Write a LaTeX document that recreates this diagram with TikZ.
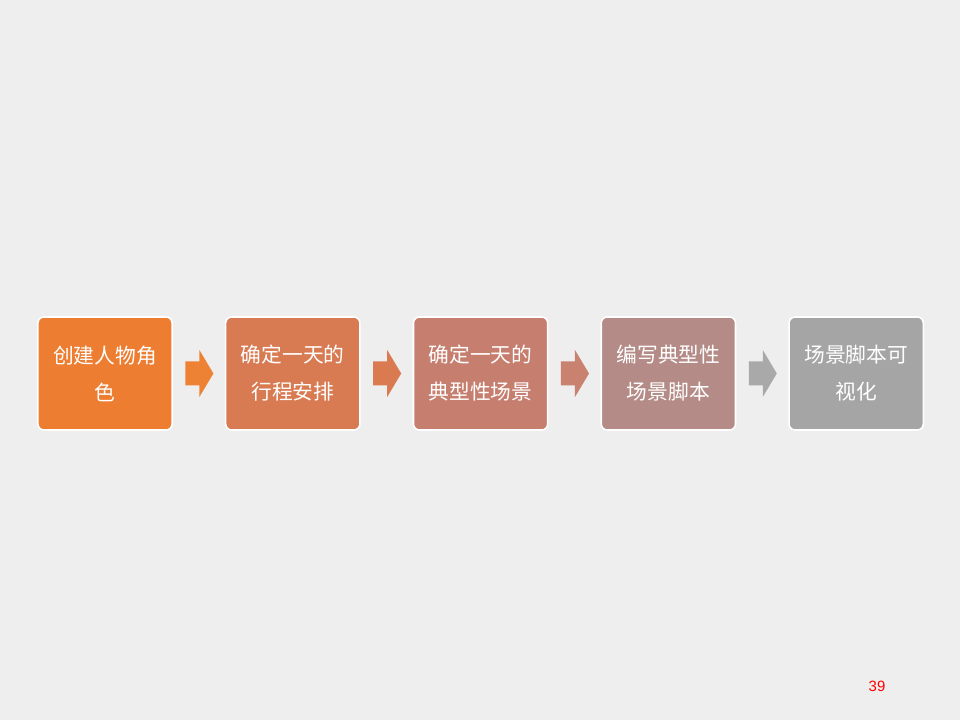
\documentclass[tikz,border=0pt]{standalone}
\usepackage{fontspec}
\newfontfamily\cjk{Noto Sans CJK SC}
\setmainfont{Liberation Sans}
\usetikzlibrary{positioning,calc}

\definecolor{bg}{HTML}{EEEEEE}
\definecolor{boxA}{HTML}{ED7D31}
\definecolor{boxB}{HTML}{D87A52}
\definecolor{boxC}{HTML}{C67E6E}
\definecolor{boxD}{HTML}{B48B86}
\definecolor{boxE}{HTML}{A5A5A5}
\definecolor{arrA}{HTML}{EE8234}
\definecolor{arrB}{HTML}{DA7A50}
\definecolor{arrC}{HTML}{C8826F}
\definecolor{arrD}{HTML}{A9A9A9}

\tikzset{
  stage/.style={draw=white,line width=0.9pt,rounded corners=0.12cm,
    minimum width=2.64cm,minimum height=2.26cm,text width=2.45cm,
    align=center,text=white,
    font=\cjk\fontsize{11.8}{21}\selectfont},
}

\begin{document}
\begin{tikzpicture}
  \fill[bg] (0,0) rectangle (19.2,14.4);
  \useasboundingbox (0,0) rectangle (19.2,14.4);
  % stages
  \node[stage,fill=boxA] (s1) at (2.1,6.93) {创建人物角\\色};
  \node[stage,fill=boxB,right=1.04cm of s1] (s2) {确定一天的\\行程安排};
  \node[stage,fill=boxC,right=1.04cm of s2] (s3) {确定一天的\\典型性场景};
  \node[stage,fill=boxD,right=1.04cm of s3] (s4) {编写典型性\\场景脚本};
  \node[stage,fill=boxE,right=1.04cm of s4] (s5) {场景脚本可\\视化};
  % block arrows between stages
  \foreach \a/\b/\c in {s1/s2/arrA,s2/s3/arrB,s3/s4/arrC,s4/s5/arrD} {
    \coordinate (m) at ($(\a.east)!0.5!(\b.west)$);
    \fill[\c] (m) ++(-0.27,0.24) -- ++(0.28,0) -- ++(0,0.23) -- ++(0.28,-0.47)
      -- ++(-0.28,-0.47) -- ++(0,0.23) -- ++(-0.28,0) -- cycle;
  }
  \node[text=red,font=\fontsize{8.5}{10}\selectfont] (pg) at (17.54,0.68) {39};
\end{tikzpicture}
\end{document}
